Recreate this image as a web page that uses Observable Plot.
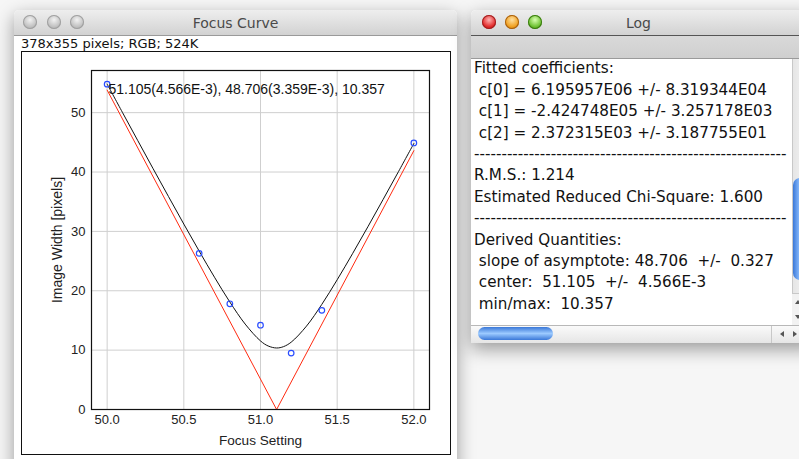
<!DOCTYPE html>
<html>
<head>
<meta charset="utf-8">
<script src="https://cdn.jsdelivr.net/npm/d3@7"></script>
<script src="https://cdn.jsdelivr.net/npm/@observablehq/plot@0.6"></script>
<style>
  html, body { margin: 0; padding: 0; }
  body { width: 799px; height: 459px; overflow: hidden; position: relative; background: #f6f6f6; font-family: "DejaVu Sans", sans-serif; }
  .abs { position: absolute; }
  .win { position: absolute; background: #fff; border-radius: 5px 5px 0 0; box-shadow: 0 6px 18px rgba(0,0,0,0.38); overflow: hidden; }
  .titlebar { position: absolute; left: 0; top: 0; right: 0; height: 25px; background: linear-gradient(#eeeeee, #d2d2d2); border-bottom: 1px solid #9a9a9a; }
  .title { position: absolute; top: 5px; font-size: 14px; color: #4a4a4a; white-space: pre; }
  .light { position: absolute; top: 5px; width: 14px; height: 14px; border-radius: 50%; }
  .gray { background: radial-gradient(circle at 50% 35%, #f2f2f2, #b9b9b9 70%, #9c9c9c); box-shadow: inset 0 0 0 1px #a0a0a0; }
  .red { background: radial-gradient(circle at 50% 35%, #ffb3b3, #e22a2a 60%, #9b1010); box-shadow: inset 0 0 0 1px #a02020; }
  .orange { background: radial-gradient(circle at 50% 35%, #ffe0a0, #f0a020 60%, #a86010); box-shadow: inset 0 0 0 1px #a86010; }
  .green { background: radial-gradient(circle at 50% 35%, #d8ffb0, #6cc030 60%, #3a7a10); box-shadow: inset 0 0 0 1px #3a7a10; }
  #log-text { position: absolute; left: 3px; top: 48.3px; font-size: 15.2px; line-height: 21.4px; color: #111; white-space: pre; }
  .tri { position: absolute; width: 0; height: 0; }
</style>
</head>
<body>
<div class="win" id="focus" style="left:14px; top:10px; width:443px; height:470px;">
  <div class="titlebar">
    <div class="light gray" style="left:9px;"></div>
    <div class="light gray" style="left:33px;"></div>
    <div class="light gray" style="left:56px;"></div>
    <div class="title" style="left:0; right:0; text-align:center;">Focus Curve</div>
  </div>
  <div class="abs" style="left:7px; top:26px; font-size:13px; color:#111; white-space:pre;">378x355 pixels; RGB; 524K</div>
  <div class="abs" style="left:7px; top:41px; width:428px; height:402px; border:1px solid #111;"></div>
  <div class="abs" id="plot" style="left:8px; top:42px;"></div>
</div>

<div class="win" id="logwin" style="left:471px; top:10px; width:345px; height:333px;">
  <div class="titlebar" style="border-bottom:1px solid #555;">
    <div class="light red" style="left:11px;"></div>
    <div class="light orange" style="left:34px;"></div>
    <div class="light green" style="left:57px;"></div>
    <div class="title" style="left:155px;">Log</div>
  </div>
  <div class="abs" style="left:0; top:26px; width:345px; height:22px; background:linear-gradient(#d9d9d9,#cfcfcf); border-bottom:1px solid #9a9a9a;"></div>
  <div id="log-text"></div>
  <div class="abs" style="left:321px; top:49px; width:24px; height:266px; background:linear-gradient(90deg,#e6e6e6,#fafafa); border-left:1px solid #c8c8c8;"></div>
  <div class="abs" style="left:322px; top:168px; width:14px; height:102px; border-radius:7px; background:linear-gradient(90deg,#3a78d8,#8fc0ff 50%,#3a78d8);"></div>
  <div class="abs" style="left:321px; top:283px; width:24px; height:32px; background:#f2f2f2; border-top:1px solid #c8c8c8;"></div>
  <div class="tri" style="left:324px; top:290px; border-left:3px solid transparent; border-right:3px solid transparent; border-bottom:4px solid #555;"></div>
  <div class="tri" style="left:324px; top:305px; border-left:3px solid transparent; border-right:3px solid transparent; border-top:4px solid #555;"></div>
  <div class="abs" style="left:0; top:315px; width:345px; height:18px; background:linear-gradient(#fafafa,#e4e4e4); border-top:1px solid #b8b8b8;"></div>
  <div class="abs" style="left:7px; top:317px; width:75px; height:13px; border-radius:7px; background:linear-gradient(#3a78d8,#9ccaff 50%,#3a78d8);"></div>
  <div class="abs" style="left:300px; top:316px; width:45px; height:17px; border-left:1px solid #c8c8c8;"></div>
  <div class="tri" style="left:309px; top:321px; border-top:3px solid transparent; border-bottom:3px solid transparent; border-right:4px solid #555;"></div>
  <div class="tri" style="left:322px; top:321px; border-top:3px solid transparent; border-bottom:3px solid transparent; border-left:4px solid #555;"></div>
</div>

<script>
// ---- data ----
const focusSetting = [50.0, 50.6, 50.8, 51.0, 51.2, 51.4, 52.0];
const imageWidth   = [54.8, 26.3, 17.8, 14.2, 9.5, 16.7, 44.9];

// fitted hyperbola (black curve), sampled
const fitX = [50.0, 50.1, 50.2, 50.3, 50.4, 50.5, 50.6, 50.7, 50.8, 50.9, 51.0, 51.05, 51.105, 51.15, 51.2, 51.3, 51.4, 51.5, 51.6, 51.7, 51.8, 51.9, 52.0];
const fitY = [54.81, 50.03, 45.28, 40.55, 35.87, 31.23, 26.69, 22.28, 18.11, 14.39, 11.55, 10.70, 10.36, 10.59, 11.34, 14.05, 17.71, 21.85, 26.24, 30.77, 35.40, 40.08, 44.81];

// asymptotes (red)
const asymX = [50.0, 51.105, 52.0];
const asymY = [53.8, 0, 43.6];

const xTicks = [50.0, 50.5, 51.0, 51.5, 52.0];
const yTicks = [0, 10, 20, 30, 40, 50];
const annotation = "51.105(4.566E-3), 48.706(3.359E-3), 10.357";

const logLines = [
  "Fitted coefficients:",
  " c[0] = 6.195957E06 +/- 8.319344E04",
  " c[1] = -2.424748E05 +/- 3.257178E03",
  " c[2] = 2.372315E03 +/- 3.187755E01",
  "---------------------------------------------------------",
  "R.M.S.: 1.214",
  "Estimated Reduced Chi-Square: 1.600",
  "---------------------------------------------------------",
  "Derived Quantities:",
  " slope of asymptote: 48.706  +/-  0.327",
  " center:  51.105  +/-  4.566E-3",
  " min/max:  10.357"
];

document.getElementById("log-text").textContent = logLines.join("\n");

const points = focusSetting.map((x, i) => ({x, y: imageWidth[i]}));
const fit = fitX.map((x, i) => ({x, y: fitY[i]}));
const asym = asymX.map((x, i) => ({x, y: asymY[i]}));

const chart = Plot.plot({
  width: 428,
  height: 402,
  marginLeft: 69,
  marginRight: 21,
  marginTop: 18,
  marginBottom: 45,
  style: {fontFamily: "'Liberation Sans', Arial, sans-serif", fontSize: "13px", color: "#222", background: "white", overflow: "visible"},
  x: {domain: [49.898, 52.102]},
  y: {domain: [0, 57.1]},
  marks: [
    Plot.gridX(xTicks, {stroke: "#cfcfcf", strokeOpacity: 1}),
    Plot.gridY(yTicks, {stroke: "#cfcfcf", strokeOpacity: 1}),
    Plot.axisX(xTicks, {tickSize: 0, tickPadding: 5, tickFormat: d3.format(".1f"), label: null, fontSize: 13}),
    Plot.axisX({label: "Focus Setting", labelAnchor: "center", labelArrow: "none", labelOffset: 35, ticks: [], tickSize: 0, fontSize: 13.6}),
    Plot.axisY(yTicks, {tickSize: 0, tickPadding: 6, label: null, fontSize: 13}),
    Plot.axisY({label: "Image Width [pixels]", labelAnchor: "center", labelArrow: "none", labelOffset: 39, ticks: [], tickSize: 0, fontSize: 14}),
    Plot.line(asym, {x: "x", y: "y", stroke: "#ff2a10", strokeWidth: 1}),
    Plot.line(fit, {x: "x", y: "y", stroke: "#111", strokeWidth: 1, curve: "catmull-rom"}),
    Plot.dot(points, {x: "x", y: "y", r: 2.8, stroke: "#2a4dff", fill: "none", strokeWidth: 1.2}),
    Plot.frame({stroke: "#111", strokeWidth: 1.2}),
    Plot.text([annotation], {frameAnchor: "top-left", dx: 17, dy: 19, textAnchor: "start", lineAnchor: "middle", fontSize: 14, fill: "#111"})
  ]
});
document.getElementById("plot").appendChild(chart);
</script>
</body>
</html>
